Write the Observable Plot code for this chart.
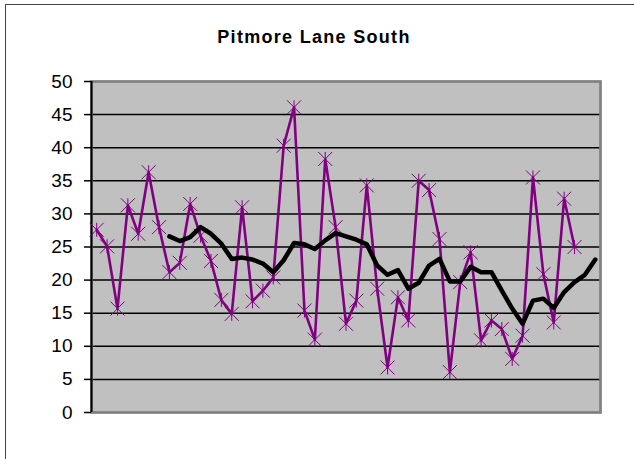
<!DOCTYPE html>
<html>
<head>
<meta charset="utf-8">
<script src="https://cdn.jsdelivr.net/npm/d3@7"></script>
<script src="https://cdn.jsdelivr.net/npm/@observablehq/plot@0.6"></script>
<style>
  html, body { margin: 0; padding: 0; background: #fff; overflow: hidden; }
  #wrap { position: relative; width: 634px; height: 459px; overflow: hidden; }
  #border { position: absolute; left: 5px; top: 4px; width: 700px; height: 600px; border: 1px solid #444; }
  #title { position: absolute; left: 0; top: 0; width: 628px; height: 60px; box-sizing: border-box;
           padding-top: 27.5px; text-align: center; font: bold 18px/18px "Liberation Sans", Arial, sans-serif;
           letter-spacing: 1.3px; color: #000; }
  #chart { position: absolute; left: 0; top: 60px; }
</style>
</head>
<body>
<div id="wrap">
  <div id="border"></div>
  <div id="title">Pitmore Lane South</div>
  <div id="chart"></div>
</div>
<script>
const titleText = "Pitmore Lane South";
const periods = d3.range(49);
const counts = [27.6, 25.1, 15.7, 31.3, 27.0, 36.3, 28.0, 21.2, 22.6, 31.5, 26.7, 22.9, 17.0, 14.9, 31.0, 16.8,
  18.4, 20.4, 40.3, 46.1, 15.4, 11.0, 38.3, 28.0, 13.4, 16.9, 34.3, 18.7, 6.8, 17.4, 13.9, 35.0,
  33.6, 26.2, 6.1, 19.7, 24.2, 10.9, 13.9, 12.6, 8.1, 11.6, 35.5, 20.9, 13.6, 32.3, 25.0];
const trendStart = 7;
const trend = [26.6, 25.9, 26.5, 28.0, 27.0, 25.5, 23.2, 23.4, 23.1, 22.5, 21.2, 23.0, 25.6, 25.4, 24.7, 26.0,
  27.1, 26.6, 26.1, 25.4, 22.2, 20.8, 21.5, 18.7, 19.6, 22.2, 23.2, 19.8, 19.8, 22.0, 21.2, 21.2,
  18.4, 15.7, 13.4, 16.9, 17.2, 15.8, 18.2, 19.7, 20.8, 23.1];
const yTicks = [0, 5, 10, 15, 20, 25, 30, 35, 40, 45, 50];

const countData = counts.map((v, i) => ({x: periods[i], y: v}));
const trendData = trend.map((v, i) => ({x: periods[i + trendStart], y: v}));

const star = {
  draw(ctx, size) {
    const r = Math.sqrt(size / Math.PI);
    ctx.moveTo(-r, -r); ctx.lineTo(r, r);
    ctx.moveTo(r, -r); ctx.lineTo(-r, r);
    ctx.moveTo(0, -r); ctx.lineTo(0, r);
  }
};

const chart = Plot.plot({
  width: 634,
  height: 399,
  marginLeft: 91,
  marginRight: 34,
  marginTop: 21,
  marginBottom: 47,
  style: { background: "transparent", fontFamily: "'Liberation Sans', Arial, sans-serif", overflow: "visible" },
  x: { domain: [-0.5, 48.5], axis: null },
  y: { domain: [0, 50], axis: null },
  marks: [
    Plot.frame({ fill: "#c0c0c0", stroke: null }),
    Plot.ruleY(yTicks.filter(t => t > 0 && t < 50), { stroke: "#000", strokeWidth: 1.5 }),
    Plot.frame({ stroke: "#808080", strokeWidth: 2.7, fill: "none" }),
    Plot.axisY({ ticks: yTicks, tickSize: 7, tickPadding: 12, tickFormat: d => String(d),
                 fontSize: 19, stroke: "#000", strokeWidth: 1.5, color: "#000", label: null }),
    Plot.ruleX([-0.5], { y1: 0, y2: 50, stroke: "#000", strokeWidth: 2 }),
    Plot.line(countData, { x: "x", y: "y", stroke: "#800080", strokeWidth: 2.6 }),
    Plot.dot(countData, { x: "x", y: "y", symbol: star, r: 7, stroke: "#800080", strokeWidth: 1, fill: "none" }),
    Plot.line(trendData, { x: "x", y: "y", stroke: "#000", strokeWidth: 4.5, strokeLinejoin: "round", strokeLinecap: "round" })
  ]
});
document.getElementById("chart").appendChild(chart);
document.getElementById("title").textContent = titleText;
</script>
</body>
</html>
